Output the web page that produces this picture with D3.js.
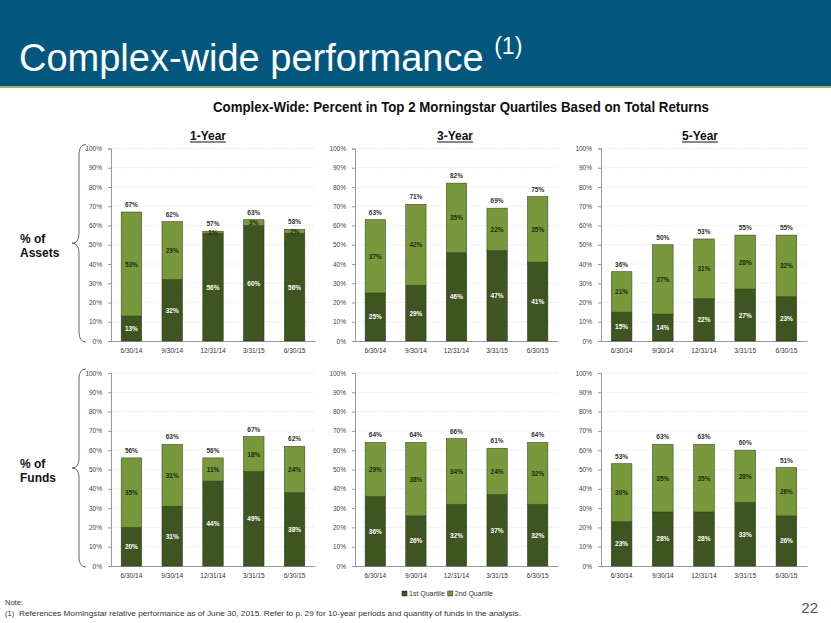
<!DOCTYPE html>
<html>
<head>
<meta charset="utf-8">
<script src="https://cdn.jsdelivr.net/npm/d3@7"></script>
<style>
  body { margin: 0; background: #fff; }
  svg { display: block; font-family: "Liberation Sans", Arial, sans-serif; }
</style>
</head>
<body>
<svg id="chart" width="831" height="623"></svg>
<script>
// data
const dates = ['6/30/14', '9/30/14', '12/31/14', '3/31/15', '6/30/15'];
const yTicks = [0, 10, 20, 30, 40, 50, 60, 70, 80, 90, 100];

const assets1Q1 = [13, 32, 56, 60, 56];
const assets1Q2 = [53, 29, 1, 3, 2];
const assets1Tot = [67, 62, 57, 63, 58];

const assets3Q1 = [25, 29, 46, 47, 41];
const assets3Q2 = [37, 42, 35, 22, 35];
const assets3Tot = [63, 71, 82, 69, 75];

const assets5Q1 = [15, 14, 22, 27, 23];
const assets5Q2 = [21, 37, 31, 28, 32];
const assets5Tot = [36, 50, 53, 55, 55];

const funds1Q1 = [20, 31, 44, 49, 38];
const funds1Q2 = [35, 31, 11, 18, 24];
const funds1Tot = [56, 63, 56, 67, 62];

const funds3Q1 = [36, 26, 32, 37, 32];
const funds3Q2 = [29, 38, 34, 24, 32];
const funds3Tot = [64, 64, 66, 61, 64];

const funds5Q1 = [23, 28, 28, 33, 26];
const funds5Q2 = [30, 35, 35, 28, 26];
const funds5Tot = [53, 63, 63, 60, 51];

const periodTitles = ['1-Year', '3-Year', '5-Year'];
const rowLabels = [['% of', 'Assets'], ['% of', 'Funds']];
const legendLabels = ['1st Quartile', '2nd Quartile'];

const dark = '#3f5521';
const light = '#78993b';

const svg = d3.select('#chart');

// Header band
svg.append('rect').attr('x', 0).attr('y', 0).attr('width', 831).attr('height', 86).attr('fill', '#03577f');
svg.append('rect').attr('x', 0).attr('y', 86).attr('width', 831).attr('height', 2).attr('fill', '#9dbb5c');
const head = svg.append('text').attr('x', 19).attr('y', 71).attr('fill', '#fff').attr('font-size', 38);
head.append('tspan').text('Complex-wide performance ');
head.append('tspan').attr('font-size', 23).attr('dy', -17).text('(1)');

svg.append('text').attr('x', 213).attr('y', 112)
    .attr('font-weight', 'bold').attr('font-size', 15).attr('fill', '#111')
    .attr('textLength', 496).attr('lengthAdjust', 'spacingAndGlyphs')
    .text('Complex-Wide: Percent in Top 2 Morningstar Quartiles Based on Total Returns');

// panel geometry
const cols = [[111, 315], [355, 558], [601, 807]];
const rows = [[148.5, 341], [373, 566]];
const titleX = [208, 455, 700];

const panels = [
    [assets1Q1, assets1Q2, assets1Tot], [assets3Q1, assets3Q2, assets3Tot], [assets5Q1, assets5Q2, assets5Tot],
    [funds1Q1, funds1Q2, funds1Tot], [funds3Q1, funds3Q2, funds3Tot], [funds5Q1, funds5Q2, funds5Tot]
];

periodTitles.forEach((t, i) => {
    const tt = svg.append('text').attr('x', titleX[i]).attr('y', 140).attr('text-anchor', 'middle')
        .attr('font-weight', 'bold').attr('font-size', 12).attr('fill', '#111').text(t);
    const w = tt.node().getComputedTextLength();
    svg.append('line').attr('x1', titleX[i] - w / 2).attr('x2', titleX[i] + w / 2)
        .attr('y1', 142).attr('y2', 142).attr('stroke', '#111').attr('stroke-width', 1);
});

panels.forEach((p, k) => {
    const [q1, q2, tot] = p;
    const [xa, xb] = cols[k % 3];
    const [ya, yb] = rows[Math.floor(k / 3)];

    const x = d3.scaleBand().domain(dates).range([xa, xb]).paddingInner(0.5).paddingOuter(0.25);
    const y = d3.scaleLinear().domain([0, 100]).range([yb, ya]);
    const g = svg.append('g');

    // grid
    g.append('g').selectAll('line').data(yTicks.slice(1)).join('line')
        .attr('x1', xa).attr('x2', xb).attr('y1', d => y(d)).attr('y2', d => y(d))
        .attr('stroke', '#d8d8d8').attr('stroke-width', 0.6).attr('stroke-dasharray', '1.5,1.5');

    // y axis
    const ya_ = g.append('g').attr('transform', `translate(${xa},0)`)
        .call(d3.axisLeft(y).tickValues(yTicks).tickFormat(d => d + '%').tickSize(3).tickPadding(6));
    ya_.select('.domain').attr('stroke', '#999');
    ya_.selectAll('.tick line').attr('stroke', '#999');
    ya_.selectAll('text').attr('font-size', 6.5).attr('fill', '#444');

    // x axis
    const xa_ = g.append('g').attr('transform', `translate(0,${yb})`)
        .call(d3.axisBottom(x).tickSize(0).tickPadding(7));
    xa_.select('.domain').attr('stroke', '#999');
    xa_.selectAll('text').attr('font-size', 6.5).attr('fill', '#333');

    const idx = d3.range(dates.length);
    // 1st quartile
    g.selectAll('.q1').data(idx).join('rect')
        .attr('x', i => x(dates[i])).attr('width', x.bandwidth())
        .attr('y', i => y(q1[i])).attr('height', i => y(0) - y(q1[i]))
        .attr('fill', dark).attr('stroke', '#2c3b15').attr('stroke-width', 0.6);
    // 2nd quartile (up to total)
    g.selectAll('.q2').data(idx).join('rect')
        .attr('x', i => x(dates[i])).attr('width', x.bandwidth())
        .attr('y', i => y(tot[i])).attr('height', i => y(q1[i]) - y(tot[i]))
        .attr('fill', light).attr('stroke', '#3a4d1d').attr('stroke-width', 0.6);

    const cx = i => x(dates[i]) + x.bandwidth() / 2;
    g.selectAll('.l1').data(idx).join('text')
        .attr('x', cx).attr('y', i => y(q1[i] / 2) + 2.5).attr('text-anchor', 'middle')
        .attr('font-size', 6.5).attr('font-weight', 'bold').attr('fill', '#fff')
        .text(i => q1[i] + '%');
    g.selectAll('.l2').data(idx).join('text')
        .attr('x', cx).attr('y', i => y((q1[i] + tot[i]) / 2) + 2.5).attr('text-anchor', 'middle')
        .attr('font-size', 6.5).attr('font-weight', 'bold').attr('fill', '#1e2a0c')
        .text(i => q2[i] + '%');
    g.selectAll('.lt').data(idx).join('text')
        .attr('x', cx).attr('y', i => y(tot[i]) - 5).attr('text-anchor', 'middle')
        .attr('font-size', 6.5).attr('font-weight', 'bold').attr('fill', '#333')
        .text(i => tot[i] + '%');
});

// braces and row labels
function bracePath(x, y1, y2, w) {
    const ym = (y1 + y2) / 2, m = x - w / 2, r = 10;
    return `M${x},${y1} Q${m},${y1} ${m},${y1 + r} L${m},${ym - r} Q${m},${ym} ${x - w},${ym}` +
        ` Q${m},${ym} ${m},${ym + r} L${m},${y2 - r} Q${m},${y2} ${x},${y2}`;
}
rows.forEach((r, i) => {
    svg.append('path').attr('d', bracePath(86, r[0] - 4, r[1] + 1, 14))
        .attr('fill', 'none').attr('stroke', '#555').attr('stroke-width', 0.9);
    const t = svg.append('text').attr('x', 20).attr('font-weight', 'bold').attr('font-size', 12).attr('fill', '#111');
    const ym = (r[0] + r[1]) / 2;
    t.append('tspan').attr('x', 20).attr('y', ym - 2).text(rowLabels[i][0]);
    t.append('tspan').attr('x', 20).attr('y', ym + 12).text(rowLabels[i][1]);
});

// legend
const leg = svg.append('g').attr('transform', 'translate(402,596)');
let lx = 0;
legendLabels.forEach((l, i) => {
    leg.append('rect').attr('x', lx).attr('y', -5).attr('width', 5).attr('height', 5)
        .attr('fill', i ? light : dark).attr('stroke', '#222').attr('stroke-width', 0.5);
    const t = leg.append('text').attr('x', lx + 7).attr('y', 0).attr('font-size', 7).attr('fill', '#333').text(l);
    lx += 7 + t.node().getComputedTextLength() + 3;
});

// footnote
const fn = svg.append('g').attr('font-size', 7.5).attr('fill', '#333');
fn.append('text').attr('x', 5).attr('y', 605).text('Note:');
fn.append('text').attr('x', 5).attr('y', 616).text('(1)');
fn.append('text').attr('x', 19).attr('y', 616).attr('textLength', 502).attr('lengthAdjust', 'spacingAndGlyphs')
    .text('References Morningstar relative performance as of June 30, 2015. Refer to p. 29 for 10-year periods and quantity of funds in the analysis.');
svg.append('text').attr('x', 818).attr('y', 613).attr('text-anchor', 'end')
    .attr('font-size', 15).attr('fill', '#555').text('22');
</script>
</body>
</html>
